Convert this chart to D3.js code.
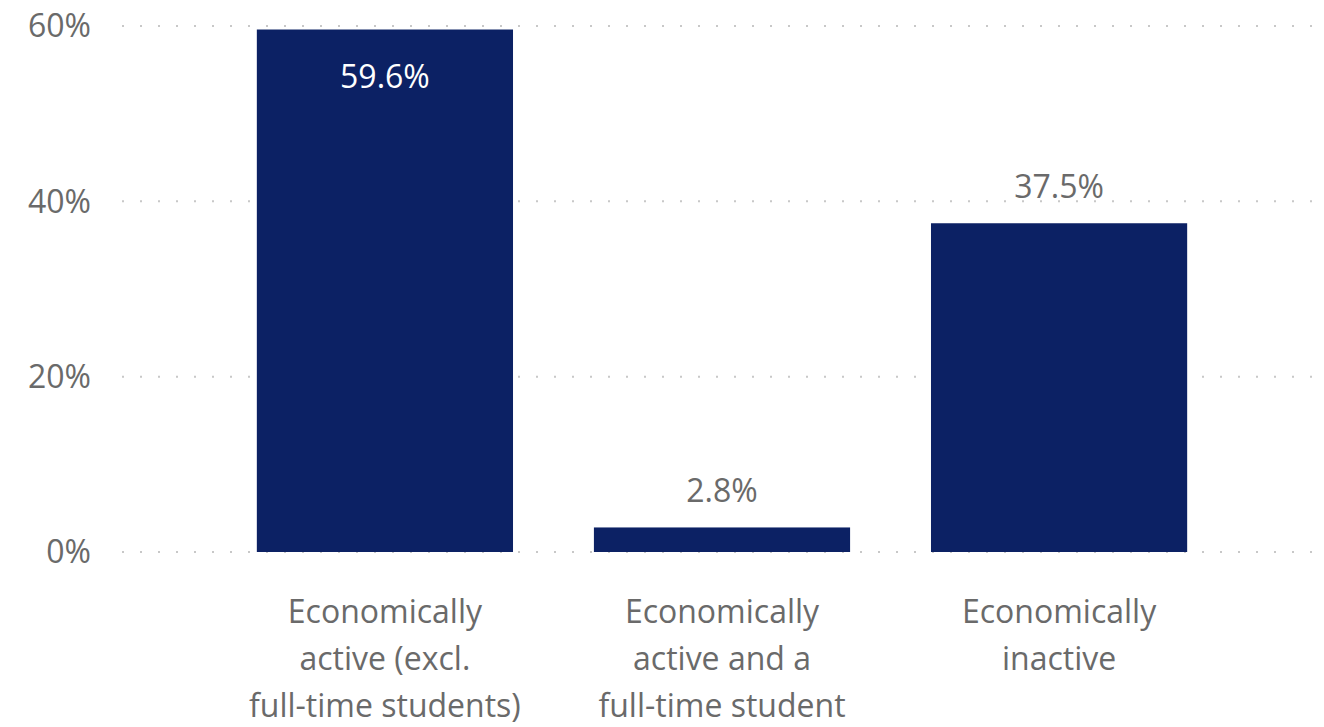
<!DOCTYPE html>
<html><head><meta charset="utf-8">
<script src="https://cdn.jsdelivr.net/npm/d3@7"></script>
<style>body{margin:0;background:#fff;} text{font-family:"Segoe UI","Open Sans","Noto Sans",sans-serif;font-weight:400;}</style>
</head><body>
<svg id="c" width="1324" height="727"></svg>
<script>
const categories = [
  ["Economically", "active (excl.", "full-time students)"],
  ["Economically", "active and a", "full-time student"],
  ["Economically", "inactive"]
];
const keys = ["a", "b", "c"];
const values = [59.6, 2.8, 37.5];
const valueLabels = ["59.6%", "2.8%", "37.5%"];
const yTicks = [0, 20, 40, 60];

const svg = d3.select("#c");
const mLeft = 122, mRight = 1322, mTop = 26, mBottom = 552;
const x = d3.scaleBand().domain(keys).range([mLeft, mRight]).paddingInner(0.24).paddingOuter(0.4);
const y = d3.scaleLinear().domain([0, 60]).range([mBottom, mTop]);
const textColor = "#6a6a6a";
const fs = 32;

// gridlines
svg.append("g").selectAll("line").data(yTicks).join("line")
  .attr("x1", 122).attr("x2", 1320)
  .attr("y1", d => y(d)).attr("y2", d => y(d))
  .attr("stroke", "#c8c8c8").attr("stroke-width", 2)
  .attr("stroke-dasharray", "2,16");

// y labels
svg.append("g").selectAll("text").data(yTicks).join("text")
  .attr("x", 91).attr("y", d => y(d)).attr("dy", "0.35em")
  .attr("text-anchor", "end").attr("fill", textColor).attr("font-size", fs)
  .text(d => d + "%");

// bars
svg.append("g").selectAll("rect").data(values).join("rect")
  .attr("x", (d, i) => x(keys[i])).attr("width", x.bandwidth())
  .attr("y", d => y(d)).attr("height", d => y(0) - y(d))
  .attr("fill", "#0c2164");

// value labels
svg.append("g").selectAll("text").data(values).join("text")
  .attr("x", (d, i) => x(keys[i]) + x.bandwidth() / 2)
  .attr("y", d => d > 50 ? y(d) + 58 : y(d) - 25)
  .attr("text-anchor", "middle")
  .attr("fill", d => d > 50 ? "#ffffff" : textColor)
  .attr("font-size", fs)
  .text((d, i) => valueLabels[i]);

// category labels
const cg = svg.append("g");
categories.forEach((lines, i) => {
  const t = cg.append("text").attr("text-anchor", "middle").attr("fill", textColor).attr("font-size", fs);
  lines.forEach((ln, j) => {
    t.append("tspan").attr("x", x(keys[i]) + x.bandwidth() / 2).attr("y", 623 + j * 47).text(ln);
  });
});
</script>
</body></html>
